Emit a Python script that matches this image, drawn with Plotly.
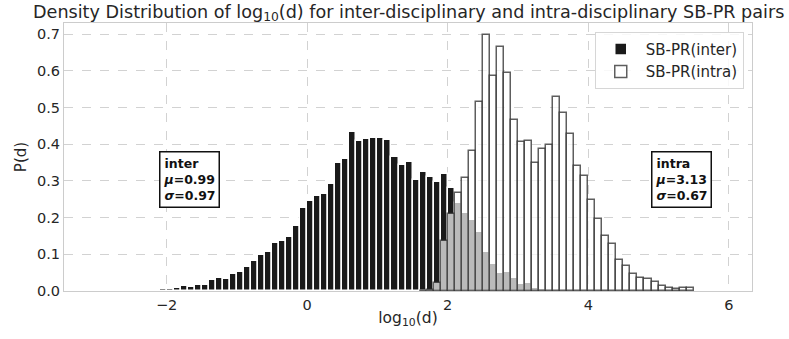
import numpy as np
import plotly.graph_objects as go

BIN_WIDTH = 0.1
inter_start = -2.1
inter_vals = [0.006, 0.006, 0.009, 0.013, 0.011, 0.015, 0.015, 0.030, 0.035, 0.034,
              0.046, 0.053, 0.066, 0.083, 0.098, 0.107, 0.132, 0.135, 0.148, 0.177,
              0.225, 0.245, 0.260, 0.264, 0.292, 0.350, 0.360, 0.432, 0.408, 0.415,
              0.416, 0.416, 0.410, 0.364, 0.343, 0.351, 0.303, 0.325, 0.310, 0.298,
              0.318, 0.280, 0.239, 0.212, 0.194, 0.162, 0.107, 0.073, 0.048, 0.053,
              0.035, 0.020, 0.021, 0.009, 0.005, 0.003, 0.002, 0.001]
intra_start = 1.6
intra_vals = [0.001, 0.004, 0.021, 0.136, 0.209, 0.268, 0.309, 0.382, 0.516, 0.698,
              0.587, 0.666, 0.595, 0.465, 0.406, 0.409, 0.350, 0.386, 0.397, 0.529,
              0.484, 0.429, 0.340, 0.312, 0.248, 0.197, 0.149, 0.129, 0.085, 0.069,
              0.045, 0.036, 0.034, 0.025, 0.013, 0.009, 0.005, 0.007, 0.007]

x_ticks = [-2, 0, 2, 4, 6]
y_ticks = [0.0, 0.1, 0.2, 0.3, 0.4, 0.5, 0.6, 0.7]

inter_centers = inter_start + BIN_WIDTH * (np.arange(len(inter_vals)) + 0.5)
intra_centers = intra_start + BIN_WIDTH * (np.arange(len(intra_vals)) + 0.5)

FONT = "DejaVu Sans"
TXT = "#262626"

fig = go.Figure()
fig.add_trace(go.Bar(
    x=inter_centers, y=inter_vals, width=BIN_WIDTH, name="SB-PR(inter)",
    marker=dict(color="#1a1a1a", line=dict(color="white", width=1.5)),
))
fig.add_trace(go.Bar(
    x=intra_centers, y=intra_vals, width=BIN_WIDTH, name="SB-PR(intra)",
    marker=dict(color="rgba(255,255,255,0.7)", line=dict(color="rgba(40,40,40,0.75)", width=1.5)),
))

box_style = dict(showarrow=False, align="left", bordercolor="#111111", borderwidth=1.5,
                 borderpad=3, bgcolor="white", font=dict(family=FONT, size=12.5, color="#111111"),
                 xref="x", yref="y")
fig.add_annotation(x=-1.68, y=0.305, text="<b>inter</b><br><b><i>μ</i>=0.99</b><br><b><i>σ</i>=0.97</b>", **box_style)
fig.add_annotation(x=5.32, y=0.305, text="<b>intra</b><br><b><i>μ</i>=3.13</b><br><b><i>σ</i>=0.67</b>", **box_style)

axis_common = dict(showline=True, linecolor="#cccccc", linewidth=1.25, mirror=True,
                   showgrid=True, gridcolor="#d2d2d2", griddash="dash", gridwidth=1,
                   zeroline=False, ticks="", automargin=False,
                   tickfont=dict(family=FONT, size=14.5, color=TXT))

fig.update_layout(
    width=789, height=339,
    margin=dict(l=64, r=37, t=23, b=48),
    paper_bgcolor="white", plot_bgcolor="white",
    barmode="overlay", bargap=0,
    font=dict(family=FONT, color=TXT),
    title=dict(text="Density Distribution of log<sub>10</sub>(d) for inter-disciplinary and intra-disciplinary SB-PR pairs",
               x=0.518, xanchor="center", y=1 - 11.5 / 339, yanchor="middle",
               font=dict(family=FONT, size=17.6, color=TXT)),
    xaxis=dict(range=[-3.46, 6.33], tickvals=x_ticks,
               title=dict(text="log<sub>10</sub>(d)", font=dict(family=FONT, size=15.5, color=TXT), standoff=0),
               **axis_common),
    yaxis=dict(range=[0, 0.73], tickvals=y_ticks, tickformat=".1f",
               title=dict(text="P(d)", font=dict(family=FONT, size=15, color=TXT), standoff=6),
               **axis_common),
    legend=dict(x=0.988, y=0.967, xanchor="right", yanchor="top",
                bgcolor="rgba(255,255,255,0.85)", bordercolor="#d6d6d6", borderwidth=1,
                font=dict(family=FONT, size=15, color=TXT), itemwidth=40, tracegroupgap=0),
    showlegend=True,
)

fig.write_html("out.html", config={"displayModeBar": False},
               post_script="document.body.style.margin='0';document.body.style.padding='0';")
